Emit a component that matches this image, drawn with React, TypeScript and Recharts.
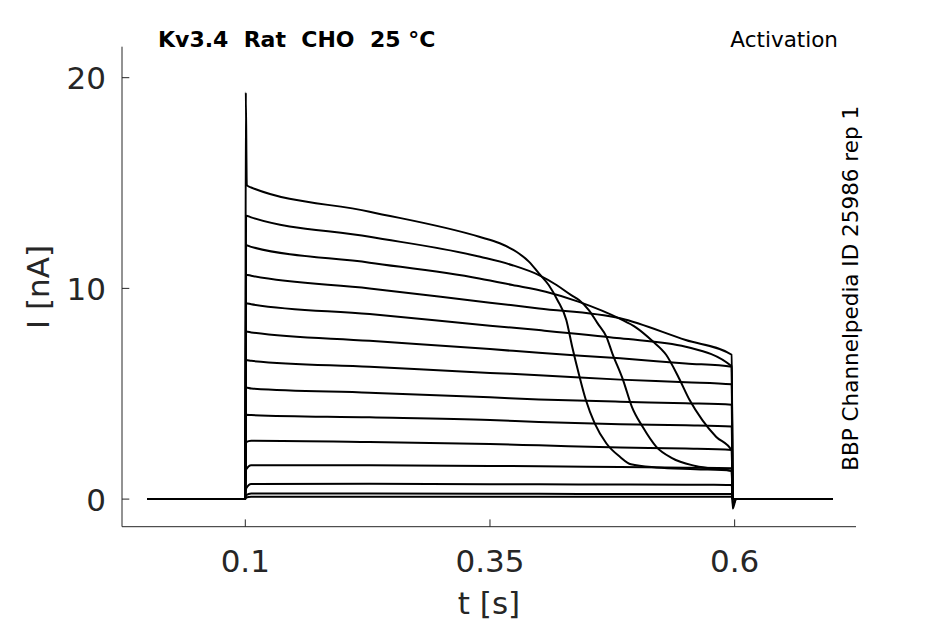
import React from 'react';
import { LineChart, Line, XAxis, YAxis } from 'recharts';

// ---- structural times (s) ----
const T_START = 0;
const T_ON = 0.1;
const T_DROP = 0.598;
const T_BACK = 0.6015;
const T_END = 0.7;

// ---- axis ticks ----
const xTicks = [0.1, 0.35, 0.6];
const yTicks = [0, 10, 20];

// ---- shared time grid for the slowly decaying traces ----
const tGrid = [0.1008, 0.106, 0.227, 0.35, 0.4, 0.483, 0.55, 0.597];

const trace4 = [10.65, 10.6, 10.0, 9.32, 9.05, 8.58, 7.55, 6.85];
const trace5 = [9.3, 9.25, 8.78, 8.23, 8.02, 7.63, 7.23, 6.3];
const trace6 = [7.95, 7.91, 7.51, 7.12, 6.94, 6.68, 6.44, 6.28];
const trace7 = [6.6, 6.56, 6.28, 5.99, 5.88, 5.67, 5.55, 5.45];
const trace8 = [5.3, 5.25, 5.05, 4.83, 4.73, 4.62, 4.55, 4.48];
const trace9 = [4.0, 3.99, 3.88, 3.75, 3.66, 3.55, 3.5, 3.44];
const trace10 = [2.7, 2.77, 2.71, 2.61, 2.55, 2.45, 2.4, 2.33];
const trace11 = [1.4, 1.61, 1.61, 1.57, 1.56, 1.52, 1.49, 1.46];
const trace12 = [0.5, 0.72, 0.73, 0.71, 0.7, 0.69, 0.68, 0.67];
const trace13 = [0.18, 0.27, 0.26, 0.25, 0.25, 0.24, 0.24, 0.24];
const trace14 = [0.08, 0.11, 0.11, 0.11, 0.11, 0.11, 0.11, 0.11];

// ---- strongly inactivating traces (own time samples) ----
const t1 = [0.1005, 0.1015, 0.106, 0.227, 0.339, 0.36, 0.377, 0.39, 0.4, 0.41, 0.419, 0.428, 0.434, 0.441, 0.448, 0.457, 0.469, 0.483, 0.494, 0.52, 0.56, 0.597];
const trace1 = [19.3, 14.9, 14.79, 13.64, 12.45, 12.14, 11.74, 11.26, 10.71, 10.16, 9.44, 8.5, 7.23, 5.9, 4.7, 3.59, 2.64, 2.0, 1.65, 1.5, 1.42, 1.35];

const t2 = [0.1008, 0.106, 0.227, 0.34, 0.373, 0.4, 0.418, 0.433, 0.441, 0.451, 0.46, 0.469, 0.475, 0.486, 0.495, 0.506, 0.52, 0.536, 0.56, 0.597];
const trace2 = [13.45, 13.37, 12.45, 11.5, 11.1, 10.63, 10.16, 9.68, 9.45, 8.97, 8.34, 7.7, 6.92, 5.65, 4.38, 3.43, 2.48, 1.95, 1.57, 1.33];

const t3 = [0.1008, 0.106, 0.227, 0.339, 0.373, 0.407, 0.441, 0.483, 0.499, 0.516, 0.53, 0.543, 0.554, 0.567, 0.581, 0.597];
const trace3 = [12.05, 11.97, 11.22, 10.47, 10.16, 9.84, 9.36, 8.55, 8.15, 7.5, 6.85, 5.75, 4.7, 3.75, 2.96, 2.3];

const offDip1 = -0.45;

type Pt = { t: number; i: number };

function build(times: number[], values: number[], dip = 0): Pt[] {
  const pts: Pt[] = [
    { t: T_START, i: 0 },
    { t: T_ON, i: 0 },
  ];
  times.forEach((t, k) => pts.push({ t, i: values[k] }));
  pts.push({ t: T_DROP, i: dip });
  pts.push({ t: T_BACK, i: 0 });
  pts.push({ t: T_END, i: 0 });
  return pts;
}

const series: Pt[][] = [
  build(t1, trace1, offDip1),
  build(t2, trace2, -0.3),
  build(t3, trace3, -0.2),
  build(tGrid, trace4),
  build(tGrid, trace5),
  build(tGrid, trace6),
  build(tGrid, trace7),
  build(tGrid, trace8),
  build(tGrid, trace9),
  build(tGrid, trace10),
  build(tGrid, trace11),
  build(tGrid, trace12),
  build(tGrid, trace13),
  build(tGrid, trace14),
];

const AX = '#262626';
const FONT = "'DejaVu Sans', 'Liberation Sans', sans-serif";

const XTick = (props: any) => {
  const { x, y, payload } = props;
  return (
    <g>
      <line x1={x} x2={x} y1={y} y2={y - 7.3} stroke={AX} strokeWidth={1} />
      <text x={x} y={y + 45.3} textAnchor="middle" fontSize={31} fill={AX} fontFamily={FONT}>
        {String(payload.value)}
      </text>
    </g>
  );
};

const YTick = (props: any) => {
  const { x, y, payload } = props;
  return (
    <g>
      <line x1={x} x2={x + 7.3} y1={y} y2={y} stroke={AX} strokeWidth={1} />
      <text x={x - 16} y={y + 11.5} textAnchor="end" fontSize={31} fill={AX} fontFamily={FONT}>
        {String(payload.value)}
      </text>
    </g>
  );
};

export default function App() {
  return (
    <div style={{ position: 'absolute', left: 0, top: 0, width: 945, height: 624, background: '#fff' }}>
      <LineChart
        width={945}
        height={624}
        margin={{ top: 46.7, right: 89, bottom: 37.3, left: 62 }}
      >
        <XAxis
          type="number"
          dataKey="t"
          domain={[-0.026, 0.724]}
          ticks={xTicks}
          interval={0}
          allowDataOverflow
          height={60}
          tickSize={0}
          tickMargin={0}
          tickLine={false}
          axisLine={{ stroke: AX, strokeWidth: 1 }}
          tick={<XTick />}
        />
        <YAxis
          type="number"
          dataKey="i"
          domain={[-1.31, 21.47]}
          ticks={yTicks}
          interval={0}
          allowDataOverflow
          width={60}
          tickSize={0}
          tickMargin={0}
          tickLine={false}
          axisLine={{ stroke: AX, strokeWidth: 1 }}
          tick={<YTick />}
        />
        {series.map((d, k) => (
          <Line
            key={k}
            data={d}
            dataKey="i"
            type="monotoneX"
            stroke="#000"
            strokeWidth={2}
            dot={false}
            activeDot={false}
            isAnimationActive={false}
          />
        ))}
      </LineChart>
      <svg
        width={945}
        height={624}
        style={{ position: 'absolute', left: 0, top: 0, pointerEvents: 'none' }}
      >
        <text x={158} y={47} fontSize={22} fontWeight="bold" fill="#000" fontFamily={FONT}>
          {'Kv3.4\u00A0\u00A0Rat\u00A0\u00A0CHO\u00A0\u00A025\u00A0°C'}
        </text>
        <text x={838} y={46.5} fontSize={21.5} textAnchor="end" fill="#000" fontFamily={FONT}>
          Activation
        </text>
        <text
          x={858}
          y={288.3}
          fontSize={21.5}
          textAnchor="middle"
          fill="#000"
          fontFamily={FONT}
          transform="rotate(-90 858 288.3)"
        >
          BBP Channelpedia ID 25986 rep 1
        </text>
        <text
          x={49.3}
          y={287}
          fontSize={31}
          textAnchor="middle"
          fill={AX}
          fontFamily={FONT}
          transform="rotate(-90 49.3 287)"
        >
          I [nA]
        </text>
        <text x={489} y={614} fontSize={31} textAnchor="middle" fill={AX} fontFamily={FONT}>
          t [s]
        </text>
      </svg>
    </div>
  );
}
